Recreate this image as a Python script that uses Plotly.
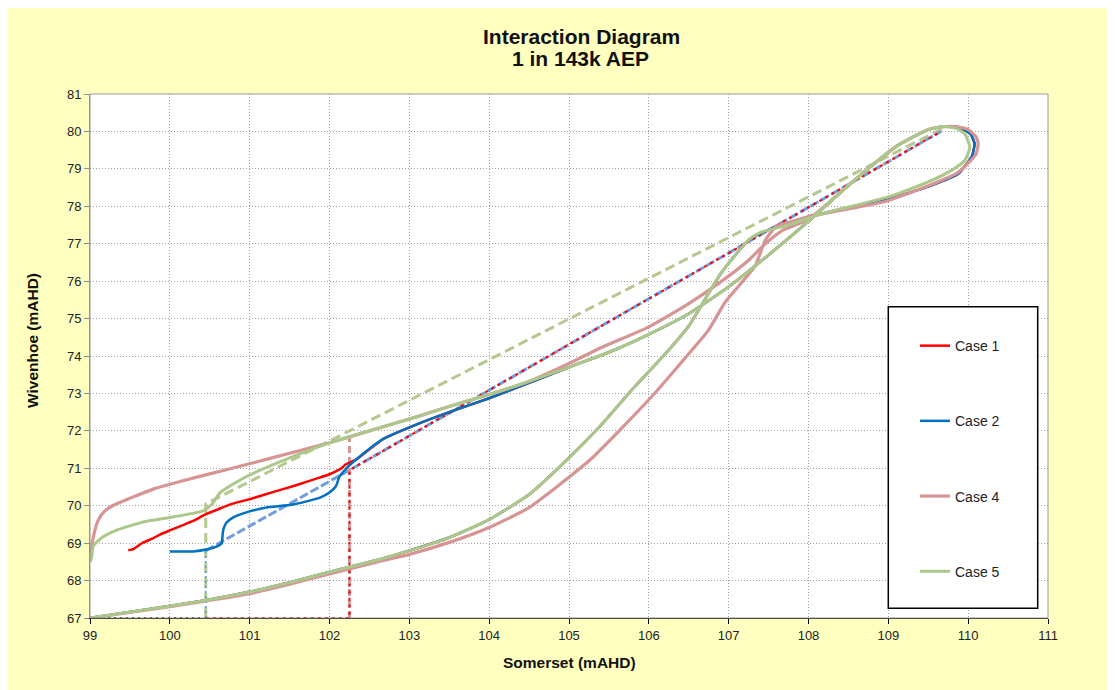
import plotly.graph_objects as go

# ---------------- data ----------------
X_TICKS = list(range(99, 112))
Y_TICKS = list(range(67, 82))

CASE1_START_X = [99.48, 99.55, 99.66, 99.78, 99.875, 100.0, 100.125, 100.3, 100.44, 100.6, 100.75,
                 100.9, 101.04, 101.3, 101.54, 101.7, 101.875, 102.0, 102.08, 102.15, 102.2]
CASE1_START_Y = [68.81, 68.85, 69.01, 69.12, 69.23, 69.34, 69.45, 69.6, 69.76, 69.9, 70.03,
                 70.12, 70.2, 70.37, 70.52, 70.63, 70.75, 70.84, 70.92, 71.0, 71.1]

CASE2_START_X = [100.0, 100.29, 100.46, 100.6, 100.65, 100.66, 100.67, 100.71, 100.78, 100.875, 101.0,
                 101.21, 101.54, 101.875, 102.0, 102.08, 102.125, 102.17, 102.21]
CASE2_START_Y = [68.78, 68.78, 68.83, 68.92, 69.0, 69.2, 69.36, 69.55, 69.67, 69.76, 69.85,
                 69.95, 70.03, 70.21, 70.35, 70.52, 70.78, 70.9, 71.0]

MAIN_X = [102.33, 102.67, 103.125, 103.5, 104.0, 104.5, 105.0, 105.5, 106.0, 106.5, 107.0, 107.5,
          108.0, 108.55, 109.1, 109.5, 109.7]
MAIN_Y = [71.23, 71.78, 72.2, 72.5, 72.87, 73.28, 73.7, 74.1, 74.58, 75.13, 75.85, 76.7,
          77.6, 78.65, 79.6, 80.05, 80.13]

BLUE_LOOP_X = [109.9, 110.03, 110.08, 110.05, 109.97, 109.875, 109.54, 108.96, 108.375, 108.0, 107.75, 107.45]
BLUE_LOOP_Y = [80.1, 79.93, 79.67, 79.35, 79.1, 78.87, 78.56, 78.16, 77.9, 77.72, 77.55, 77.33]

GREEN_START_X = [99.0, 99.02, 99.04, 99.15, 99.35, 99.69, 99.98, 100.4, 100.48, 100.55, 100.63,
                 100.96, 101.54, 102.0, 102.5, 103.1, 103.6, 104.0, 104.5]
GREEN_START_Y = [68.5, 68.61, 68.92, 69.15, 69.36, 69.58, 69.68, 69.85, 69.95, 70.1, 70.35,
                 70.78, 71.31, 71.68, 72.0, 72.38, 72.72, 72.97, 73.32]

GREEN_LOOP_X = [109.85, 109.96, 110.02, 109.96, 109.79, 109.5, 109.0, 108.5, 108.17, 107.75, 107.4]
GREEN_LOOP_Y = [80.08, 79.93, 79.58, 79.23, 78.96, 78.65, 78.25, 77.98, 77.8, 77.5, 77.3]

GREEN_LOWER_X = [107.25, 106.9, 106.5, 106.25, 105.79, 105.4, 104.96, 104.5, 104.0, 103.5, 103.0,
                 102.6, 102.0, 101.5, 101.0, 100.44, 100.0, 99.0]
GREEN_LOWER_Y = [77.1, 76.2, 74.8, 74.16, 73.1, 72.15, 71.2, 70.3, 69.63, 69.15, 68.8,
                 68.55, 68.23, 67.95, 67.7, 67.47, 67.32, 67.0]

PINK_START_X = [99.0, 99.02, 99.04, 99.1, 99.18, 99.3, 99.56, 99.8, 100.15, 100.5, 100.96,
                101.5, 102.0, 102.5, 103.1, 103.6, 104.0, 104.5]
PINK_START_Y = [68.56, 68.9, 69.15, 69.6, 69.85, 70.02, 70.25, 70.45, 70.66, 70.85, 71.1,
                71.4, 71.68, 72.0, 72.38, 72.72, 72.97, 73.32]

PINK_MID_X = [105.0, 105.4, 106.0, 106.5, 106.9, 107.25, 107.46, 107.67, 108.0]
PINK_MID_Y = [73.8, 74.22, 74.78, 75.4, 75.98, 76.56, 77.0, 77.35, 77.65]

PINK_LOOP_X = [109.85, 110.0, 110.1, 110.125, 110.1, 110.0, 109.87, 109.54, 108.96, 108.375, 108.0, 107.59]
PINK_LOOP_Y = [80.13, 80.05, 79.85, 79.67, 79.4, 79.15, 78.9, 78.58, 78.13, 77.88, 77.72, 77.44]

PINK_LOWER_X = [107.46, 107.33, 106.96, 106.75, 106.54, 106.0, 105.25, 104.5, 104.0, 103.5, 103.0,
                102.6, 102.0, 101.5, 101.0, 100.44, 100.0, 99.0]
PINK_LOWER_Y = [77.1, 76.4, 75.45, 74.7, 74.16, 72.83, 71.2, 69.95, 69.42, 69.02, 68.7,
                68.5, 68.18, 67.9, 67.65, 67.45, 67.3, 67.0]

# guide lines
BLACK_GUIDE_X = [99.0, 100.45]
BLACK_GUIDE_Y = [67.0, 67.0]
GREEN_GUIDE_X = [100.45, 100.45, 102.25, 109.7]
GREEN_GUIDE_Y = [67.0, 70.05, 72.0, 80.1]
BLUE_GUIDE_X = [100.45, 102.25, 109.66]
BLUE_GUIDE_Y = [68.8, 70.95, 80.0]
BLUE_DROP_X = [100.45, 100.45]
BLUE_DROP_Y = [67.0, 68.8]
PINK_DROP_X = [102.25, 102.25]
PINK_DROP_Y = [67.0, 72.0]
RED_GUIDE_X = [100.45, 102.25, 102.25, 109.66]
RED_GUIDE_Y = [67.0, 67.0, 70.95, 80.0]

# ---------------- colours ----------------
RED = "#ff0000"
BLUE = "#0070c0"
PINK = "#d69494"
GREEN = "#abc88a"
LIGHT_BLUE = "#6f9fdc"
LIGHT_GREEN = "#b5c98f"

# ---------------- build paths ----------------
case1_x = CASE1_START_X + MAIN_X + BLUE_LOOP_X + GREEN_LOWER_X
case1_y = CASE1_START_Y + MAIN_Y + BLUE_LOOP_Y + GREEN_LOWER_Y
case2_x = CASE2_START_X + MAIN_X + BLUE_LOOP_X + GREEN_LOWER_X
case2_y = CASE2_START_Y + MAIN_Y + BLUE_LOOP_Y + GREEN_LOWER_Y
case4_x = PINK_START_X + PINK_MID_X + MAIN_X[13:] + PINK_LOOP_X + PINK_LOWER_X
case4_y = PINK_START_Y + PINK_MID_Y + MAIN_Y[13:] + PINK_LOOP_Y + PINK_LOWER_Y
case5_x = GREEN_START_X + MAIN_X[6:] + GREEN_LOOP_X + GREEN_LOWER_X
case5_y = GREEN_START_Y + MAIN_Y[6:] + GREEN_LOOP_Y + GREEN_LOWER_Y

fig = go.Figure()


def guide(x, y, color, dash, width):
    fig.add_trace(go.Scatter(x=x, y=y, mode="lines", showlegend=False, hoverinfo="skip",
                             line=dict(color=color, dash=dash, width=width)))


guide(BLACK_GUIDE_X, BLACK_GUIDE_Y, "#333333", "2px,4px", 2)
guide(GREEN_GUIDE_X, GREEN_GUIDE_Y, LIGHT_GREEN, "10px,5px", 3)
guide(BLUE_GUIDE_X, BLUE_GUIDE_Y, LIGHT_BLUE, "9px,3px", 3)
guide(BLUE_DROP_X, BLUE_DROP_Y, LIGHT_BLUE, "2px,3px", 2)
guide(PINK_DROP_X, PINK_DROP_Y, PINK, "7px,4px", 3)
guide(RED_GUIDE_X, RED_GUIDE_Y, RED, "3px,4px", 2)

for name, xs, ys, col, w in [("Case 1", case1_x, case1_y, RED, 2.5),
                             ("Case 2", case2_x, case2_y, BLUE, 2.5),
                             ("Case 4", case4_x, case4_y, PINK, 3.2),
                             ("Case 5", case5_x, case5_y, GREEN, 3)]:
    fig.add_trace(go.Scatter(x=xs, y=ys, mode="lines", name=name, legendgroup=name,
                             line=dict(color=col, width=w, shape="spline", smoothing=0.5)))

FONT = "Liberation Sans, Arial, sans-serif"

# page has an 8px body margin; target page pixels are converted to figure pixels
OFF = 8
W, H = 1115 - OFF, 690 - OFF
L, R, T, B = 90 - OFF, 1048 - OFF, 93.5 - OFF, 618.5 - OFF
PW, PH = R - L, B - T


def px(xp):
    return (xp - OFF - L) / PW


def py(yp):
    return (B - (yp - OFF)) / PH


fig.update_layout(
    width=W, height=H,
    margin=dict(l=L, r=W - R, t=T, b=H - B),
    paper_bgcolor="#ffffc0",
    plot_bgcolor="white",
    font=dict(family=FONT, size=13, color="#222222"),
    showlegend=True,
    legend=dict(x=px(915), y=py(330), xanchor="left", yanchor="top",
                bgcolor="rgba(0,0,0,0)", borderwidth=0, tracegroupgap=54,
                font=dict(family=FONT, size=14, color="#222222")),
    xaxis=dict(range=[99, 111], tickvals=X_TICKS, ticktext=[str(v) for v in X_TICKS],
               showgrid=True, gridcolor="#a0a0a0", griddash="1px,2px", gridwidth=1,
               showline=True, linecolor="black", linewidth=1, mirror=False,
               ticks="outside", ticklen=5, tickcolor="black", zeroline=False,
               tickfont=dict(size=13, color="#222222")),
    yaxis=dict(range=[67, 81], tickvals=Y_TICKS, ticktext=[str(v) for v in Y_TICKS],
               showgrid=True, gridcolor="#a0a0a0", griddash="1px,2px", gridwidth=1,
               showline=True, linecolor="#8c8c8c", linewidth=1,
               ticks="outside", ticklen=5, tickcolor="#8c8c8c", zeroline=False,
               tickfont=dict(size=13, color="#222222")),
    shapes=[
        dict(type="rect", xref="paper", yref="paper", layer="above",
             x0=0, x1=1, y0=0, y1=1, line=dict(color="#9a9a9a", width=1)),
        dict(type="rect", xref="paper", yref="paper", layer="above",
             x0=px(888.3), x1=px(1037.7), y0=py(608.7), y1=py(306.7),
             fillcolor="white", line=dict(color="black", width=1.5)),
    ],
    annotations=[
        dict(text="<b>Interaction Diagram</b>", xref="paper", yref="paper",
             x=px(581), y=py(36), showarrow=False, xanchor="center", yanchor="middle",
             font=dict(family=FONT, size=21, color="#111111")),
        dict(text="<b>1 in 143k AEP</b>", xref="paper", yref="paper",
             x=px(580), y=py(58), showarrow=False, xanchor="center", yanchor="middle",
             font=dict(family=FONT, size=21, color="#111111")),
        dict(text="<b>Somerset (mAHD)</b>", xref="paper", yref="paper",
             x=px(569.5), y=py(663), showarrow=False, xanchor="center", yanchor="middle",
             font=dict(family=FONT, size=15.5, color="#111111")),
        dict(text="<b>Wivenhoe (mAHD)</b>", xref="paper", yref="paper", textangle=-90,
             x=px(32), y=py(341), showarrow=False, xanchor="center", yanchor="middle",
             font=dict(family=FONT, size=15.5, color="#111111")),
    ],
)

fig.write_html("out.html")
